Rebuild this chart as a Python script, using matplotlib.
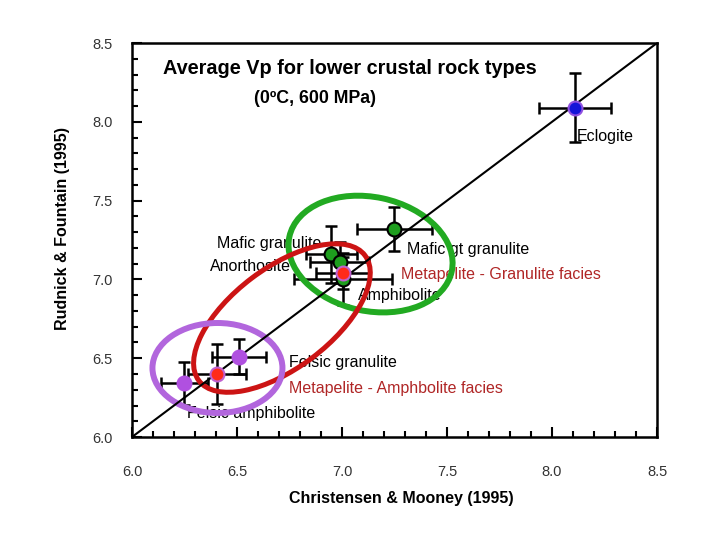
import numpy as np
import matplotlib
matplotlib.use("Agg")
import matplotlib.pyplot as plt
from matplotlib.patches import Ellipse
from matplotlib.transforms import ScaledTranslation

plt.rcParams['font.family'] = ['Liberation Sans', 'DejaVu Sans']

# rock types: (Christensen & Mooney, Rudnick & Fountain)
names = ["Eclogite", "Mafic gt granulite", "Mafic granulite", "Anorthosite",
         "Amphibolite", "Metapelite - Granulite facies", "Felsic granulite",
         "Metapelite - Amphbolite facies", "Felsic amphibolite"]
cm_vp = [8.11, 7.25, 6.95, 6.99, 7.005, 7.005, 6.51, 6.405, 6.25]
rf_vp = [8.09, 7.32, 7.16, 7.11, 7.00, 7.04, 6.51, 6.40, 6.34]
cm_err = [0.17, 0.18, 0.12, 0.14, 0.235, 0.13, 0.13, 0.14, 0.11]
rf_err = [0.22, 0.14, 0.18, 0.13, 0.165, 0.10, 0.11, 0.19, 0.135]
face = ["#1414d8", "#1e9e1e", "#1e9e1e", "#1e9e1e", "#1e9e1e", "#ff2a1a",
        "#b050e0", "#ff2a1a", "#b050e0"]
edge = ["#9050e0", "black", "black", "black", "black", "#c060d0",
        "#b050e0", "#c060d0", "#b050e0"]

# label positions (left edge, middle) and colours
lab_x = [8.119, 7.31, 6.405, 6.371, 7.076, 7.281, 6.748, 6.748, 6.262]
lab_y = [7.904, 7.193, 7.231, 7.079, 6.895, 7.034, 6.47, 6.305, 6.152]
lab_c = ["black", "black", "black", "black", "black", "#b02626",
         "black", "#b02626", "black"]

ticks = [6.0, 6.5, 7.0, 7.5, 8.0, 8.5]

fig = plt.figure(figsize=(7.2, 5.4), dpi=100)
ax = fig.add_axes([0.1833, 0.1907, 0.7292, 0.7296])
ax.set_xlim(6, 8.5)
ax.set_ylim(6, 8.5)

ax.plot([6, 8.5], [6, 8.5], color="black", lw=1.5, zorder=4)

# group ellipses: centre in data units, size in inches
groups = [((7.136, 7.161), 1.66, 1.14, -12, "#22aa22", 4.3),
          ((6.714, 6.755), 2.08, 1.00, 37, "#cc1414", 3.6),
          ((6.407, 6.438), 1.30, 0.90, 0, "#b266dd", 4.3)]
for c, w, h, ang, col, lw in groups:
    tr = fig.dpi_scale_trans + ScaledTranslation(c[0], c[1], ax.transData)
    ax.add_patch(Ellipse((0, 0), w, h, angle=ang, fill=False, ec=col, lw=lw,
                         transform=tr, zorder=3))

for i in range(len(names)):
    ax.errorbar(cm_vp[i], rf_vp[i], xerr=cm_err[i], yerr=rf_err[i], fmt="none",
                ecolor="black", elinewidth=1.8, capsize=4, capthick=1.8, zorder=2)
for i in range(len(names)):
    ax.plot(cm_vp[i], rf_vp[i], "o", ms=10, mfc=face[i], mec=edge[i], mew=1.5,
            zorder=5)
    ax.text(lab_x[i], lab_y[i], names[i], color=lab_c[i], fontsize=11.5,
            ha="left", va="center", zorder=1)

ax.text(0.415, 0.9365, "Average Vp for lower crustal rock types", transform=ax.transAxes,
        ha="center", va="center", fontsize=14.3, fontweight="bold")
ax.text(0.349, 0.858, "(0ºC, 600 MPa)", transform=ax.transAxes,
        ha="center", va="center", fontsize=12.8, fontweight="bold")

ax.set_xticks(ticks)
ax.set_yticks(ticks)
ax.set_xticks(np.arange(6, 8.51, 0.1), minor=True)
ax.set_yticks(np.arange(6, 8.51, 0.1), minor=True)
ax.set_xticklabels([f"{t:.1f}" for t in ticks])
ax.set_yticklabels([f"{t:.1f}" for t in ticks])
ax.tick_params(which="both", direction="in", top=False, right=False,
               width=1.5, labelsize=10.5, labelcolor="#333333")
ax.tick_params(axis="x", which="major", length=7, pad=20)
ax.tick_params(axis="y", which="major", length=7, pad=14)
ax.tick_params(which="minor", length=4)
for s in ax.spines.values():
    s.set_linewidth(1.8)

ax.set_xlabel("Christensen & Mooney (1995)", fontsize=11.5, fontweight="bold")
ax.set_ylabel("Rudnick & Fountain (1995)", fontsize=11.5, fontweight="bold")
ax.xaxis.set_label_coords(0.513, -0.137)
ax.yaxis.set_label_coords(-0.118, 0.53)

fig.savefig("out.png", dpi=100)
